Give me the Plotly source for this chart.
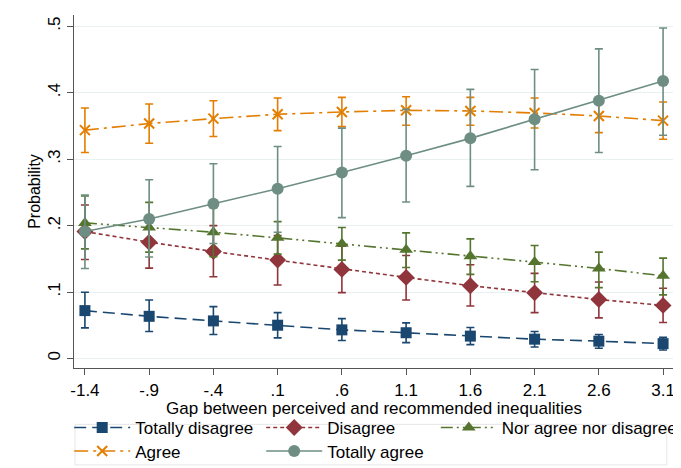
import plotly.graph_objects as go

x_vals = [-1.4, -0.9, -0.4, 0.1, 0.6, 1.1, 1.6, 2.1, 2.6, 3.1]
x_labels = ["-1.4", "-.9", "-.4", ".1", ".6", "1.1", "1.6", "2.1", "2.6", "3.1"]
y_ticks = [0, 0.1, 0.2, 0.3, 0.4, 0.5]
y_labels = ["0", ".1", ".2", ".3", ".4", ".5"]

td_y = [0.072, 0.0634, 0.0565, 0.050, 0.043, 0.0387, 0.0336, 0.029, 0.026, 0.0223]
td_hi = [0.0997, 0.088, 0.078, 0.069, 0.060, 0.0536, 0.0466, 0.0406, 0.036, 0.032]
td_lo = [0.046, 0.0406, 0.036, 0.031, 0.027, 0.0238, 0.0208, 0.0173, 0.0153, 0.0128]

d_y = [0.191, 0.175, 0.161, 0.148, 0.134, 0.122, 0.1095, 0.0987, 0.0887, 0.0798]
d_hi = [0.231, 0.214, 0.200, 0.185, 0.169, 0.155, 0.141, 0.128, 0.115, 0.1056]
d_lo = [0.149, 0.136, 0.123, 0.1106, 0.099, 0.088, 0.079, 0.069, 0.061, 0.054]

n_y = [0.204, 0.197, 0.190, 0.1815, 0.1726, 0.1637, 0.154, 0.145, 0.1354, 0.1245]
n_hi = [0.2445, 0.235, 0.227, 0.206, 0.197, 0.189, 0.180, 0.170, 0.160, 0.151]
n_lo = [0.165, 0.160, 0.153, 0.157, 0.148, 0.137, 0.1265, 0.1155, 0.1066, 0.0957]

a_y = [0.3437, 0.3536, 0.361, 0.3676, 0.371, 0.3735, 0.3725, 0.3695, 0.365, 0.358]
a_hi = [0.377, 0.383, 0.388, 0.392, 0.393, 0.394, 0.393, 0.392, 0.386, 0.386]
a_lo = [0.310, 0.324, 0.334, 0.343, 0.349, 0.351, 0.351, 0.347, 0.340, 0.330]

ta_y = [0.191, 0.210, 0.233, 0.2554, 0.280, 0.305, 0.3313, 0.360, 0.388, 0.4176]
ta_hi = [0.246, 0.269, 0.293, 0.319, 0.3467, 0.375, 0.405, 0.435, 0.466, 0.4975]
ta_lo = [0.1354, 0.1527, 0.173, 0.190, 0.212, 0.2355, 0.259, 0.284, 0.310, 0.336]

# name, values, upper, lower, colour, marker, size, dash, legend id, legend x, legend y (bottom)
series = [
    ("Totally disagree", td_y, td_hi, td_lo, "#1a476f", "square", 11, "12px,6px", "legend", -0.008, -0.221),
    ("Disagree", d_y, d_hi, d_lo, "#90353b", "diamond", 13, "4px,3px", "legend2", 0.312, -0.221),
    ("Nor agree nor disagree", n_y, n_hi, n_lo, "#55752f", "triangle-up", 12, "12px,4px,2px,4px,2px,4px", "legend3", 0.603, -0.221),
    ("Agree", a_y, a_hi, a_lo, "#e37e00", "x-thin-open", 10, "14px,5px,3px,5px", "legend4", -0.008, -0.2875),
    ("Totally agree", ta_y, ta_hi, ta_lo, "#6e8e84", "circle", 12, "solid", "legend5", 0.312, -0.2875),
]

font_fam = "Liberation Sans, Arial, sans-serif"
fig = go.Figure()
legend_layouts = {}
for name, ys, hi, lo, color, sym, size, dash, lg, lx, ly in series:
    fig.add_trace(go.Scatter(
        x=x_vals, y=ys, name=name, mode="lines+markers", legend=lg,
        line=dict(color=color, width=1.6, dash=dash),
        marker=dict(symbol=sym, size=size, color=color,
                    line=dict(color=color, width=2 if sym.startswith("x") else 0)),
        error_y=dict(type="data", symmetric=False,
                     array=[h - v for h, v in zip(hi, ys)],
                     arrayminus=[v - l for v, l in zip(ys, lo)],
                     color=color, thickness=1.6, width=4),
    ))
    legend_layouts[lg] = dict(
        orientation="h", x=lx, xanchor="left", y=ly, yanchor="bottom",
        bgcolor="rgba(0,0,0,0)", borderwidth=0,
        font=dict(size=17, family=font_fam), itemwidth=56,
    )

fig.update_layout(
    width=681, height=468,
    margin=dict(l=66, r=11, t=7, b=104),
    paper_bgcolor="white", plot_bgcolor="white",
    font=dict(family=font_fam, size=16, color="#000"),
    showlegend=True,
    **legend_layouts,
    xaxis=dict(
        range=[-1.485, 3.185], tickmode="array", tickvals=x_vals, ticktext=x_labels,
        showgrid=False, zeroline=False, showline=True, linecolor="#555", linewidth=1.2,
        ticks="outside", ticklen=6, tickcolor="#555", tickfont=dict(size=17),
        automargin=False,
        title=dict(text="Gap between perceived and recommended inequalities",
                   font=dict(size=17), standoff=0),
    ),
    yaxis=dict(
        range=[-0.0144, 0.517], tickmode="array", tickvals=y_ticks,
        ticktext=y_labels, tickangle=-90,
        showgrid=True, gridcolor="#e8f0f1", gridwidth=1, zeroline=False,
        showline=True, linecolor="#555", linewidth=1.2,
        ticks="outside", ticklen=6, tickcolor="#555", tickfont=dict(size=17),
        automargin=False,
        title=dict(text="Probability", font=dict(size=16), standoff=0),
    ),
    shapes=[dict(type="rect", xref="paper", yref="paper",
                 x0=0.0017, x1=0.988, y0=-0.2745, y1=-0.1597,
                 line=dict(color="#e6e6e6", width=1), fillcolor="rgba(0,0,0,0)")],
)

fig.write_html("out.html")
